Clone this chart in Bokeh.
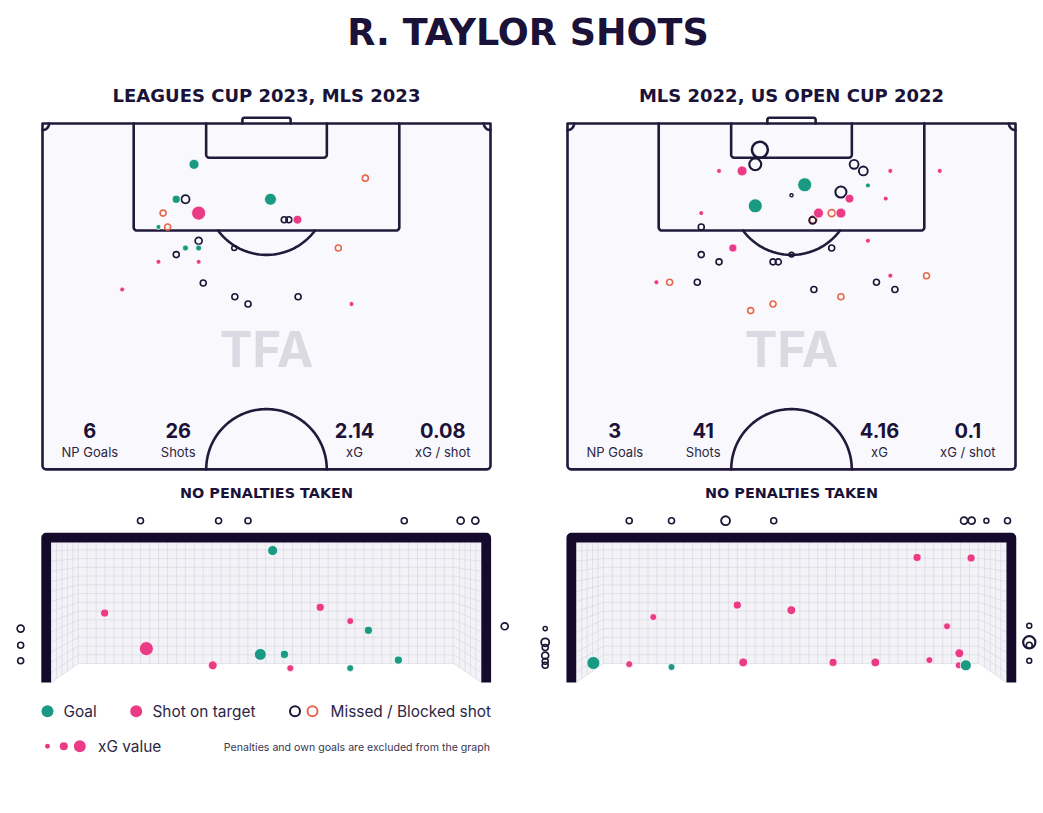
import numpy as np
from bokeh.plotting import figure
from bokeh.models import Range1d, ColumnDataSource
from bokeh.core.properties import value
from bokeh.embed import file_html
from bokeh.resources import INLINE

# ------------------------------------------------------------------ data
title = "R. TAYLOR SHOTS"
panel_titles = ["LEAGUES CUP 2023, MLS 2023", "MLS 2022, US OPEN CUP 2022"]
stat_labels = ["NP Goals", "Shots", "xG", "xG / shot"]
stats_left = ["6", "26", "2.14", "0.08"]
stats_right = ["3", "41", "4.16", "0.1"]
pen_note = "NO PENALTIES TAKEN"
watermark = "TFA"
legend_labels = ["Goal", "Shot on target", "Missed / Blocked shot", "xG value"]
legend_note = "Penalties and own goals are excluded from the graph"
legend_xg = [0.02, 0.10, 0.28]

# outcome codes: G goal, T shot on target, M missed, B blocked
# pitch shots: x = metres from left touchline, y = metres from goal line
lp_x = [23.0, 49.0, 20.3, 21.7, 34.6, 18.3, 23.7, 36.7, 37.4, 38.7, 17.6, 19.0, 23.7,
        21.7, 23.7, 29.1, 44.9, 20.3, 17.6, 23.7, 24.4, 12.1, 29.2, 38.8, 31.2, 46.9]
lp_y = [6.2, 8.3, 11.5, 11.5, 11.5, 13.6, 13.6, 14.6, 14.6, 14.6, 15.7, 15.7, 17.8,
        18.9, 18.9, 18.9, 18.9, 19.9, 21.0, 21.0, 24.2, 25.2, 26.3, 26.3, 27.4, 27.4]
lp_xg = [0.18, 0.04, 0.10, 0.10, 0.28, 0.04, 0.42, 0.04, 0.04, 0.13, 0.02, 0.04, 0.065,
         0.04, 0.04, 0.02, 0.04, 0.04, 0.02, 0.02, 0.04, 0.02, 0.04, 0.04, 0.04, 0.02]
lp_out = ["G", "B", "G", "M", "G", "B", "T", "M", "M", "T", "G", "B", "M",
          "G", "G", "M", "B", "M", "T", "T", "M", "T", "M", "M", "M", "T"]

rp_x = [29.2, 28.5, 23.0, 26.5, 43.5, 44.9, 49.0, 56.5, 36.0, 45.6, 34.0, 41.5, 42.8, 48.3,
        28.5, 20.3, 38.1, 40.1, 41.5, 37.3, 37.2, 20.3, 45.6, 25.1, 40.1, 34.0, 20.3, 23.0,
        31.2, 32.0, 13.5, 15.5, 19.7, 49.0, 54.5, 46.9, 49.7, 37.4, 41.5, 31.2, 27.8]
rp_y = [4.0, 6.2, 7.2, 7.2, 6.2, 7.2, 7.2, 7.2, 9.3, 9.4, 10.9, 10.4, 11.4, 11.4,
        12.5, 13.6, 13.6, 13.6, 13.6, 14.6, 14.7, 15.7, 17.8, 18.9, 18.9, 19.9, 19.9, 21.0,
        21.0, 21.0, 24.1, 24.1, 24.1, 23.1, 23.1, 24.1, 25.2, 25.2, 26.3, 27.4, 28.4]
rp_xg = [0.57, 0.28, 0.02, 0.18, 0.13, 0.13, 0.02, 0.02, 0.42, 0.02, 0.002, 0.23, 0.13, 0.02,
         0.42, 0.02, 0.18, 0.065, 0.18, 0.065, 0.065, 0.04, 0.02, 0.10, 0.04, 0.02, 0.04, 0.04,
         0.04, 0.04, 0.02, 0.04, 0.04, 0.02, 0.04, 0.04, 0.04, 0.04, 0.04, 0.04, 0.04]
rp_out = ["M", "M", "T", "T", "M", "M", "T", "T", "G", "G", "M", "M", "T", "T",
          "G", "T", "T", "B", "T", "B", "M", "M", "T", "T", "M", "M", "M", "M",
          "M", "M", "T", "B", "M", "T", "B", "M", "M", "M", "B", "B", "B"]

# goal-mouth view: x = metres from goal centre, y = metres above ground
lg_x = [0.11, -2.75, -2.04, -0.10, 0.31, -0.91, 0.41, 0.92, 1.43, 1.74, 1.43, 2.25,
        -2.14, -0.81, -0.31, 2.35, 3.31, 3.56, -4.18, -4.18, -4.18, 4.06]
lg_y = [2.30, 1.21, 0.59, 0.49, 0.49, 0.30, 0.25, 1.31, 1.07, 0.91, 0.25, 0.39,
        2.82, 2.82, 2.82, 2.82, 2.82, 2.82, 0.94, 0.65, 0.38, 0.98]
lg_xg = [0.18, 0.10, 0.42, 0.28, 0.10, 0.13, 0.065, 0.10, 0.065, 0.10, 0.065, 0.10,
         0.04, 0.04, 0.04, 0.04, 0.065, 0.065, 0.065, 0.04, 0.04, 0.065]
lg_out = ["G", "T", "T", "G", "G", "T", "T", "T", "T", "G", "G", "G",
          "M", "M", "M", "M", "M", "M", "M", "M", "M", "M"]

rg_x = [-3.37, -2.76, -2.04, -2.35, -0.92, 0.00, -0.82, 0.71, 1.43, 2.14, 3.06, 2.65,
        2.35, 2.86, 2.85, 2.97,
        -2.76, -2.04, -1.12, -0.30, 2.94, 3.07, 3.32, 3.68,
        -4.19, -4.19, -4.19, -4.19, -4.19, -4.19, 4.05, 4.05, 4.05, 4.05]
rg_y = [0.34, 0.32, 0.27, 1.14, 1.35, 1.26, 0.35, 0.35, 0.35, 2.18, 2.17, 0.98,
        0.39, 0.51, 0.30, 0.30,
        2.82, 2.82, 2.82, 2.82, 2.82, 2.82, 2.82, 2.82,
        0.94, 0.70, 0.61, 0.47, 0.37, 0.30, 0.99, 0.70, 0.65, 0.38]
rg_xg = [0.35, 0.065, 0.065, 0.065, 0.10, 0.13, 0.13, 0.10, 0.13, 0.10, 0.10, 0.065,
         0.065, 0.13, 0.065, 0.23,
         0.04, 0.04, 0.13, 0.04, 0.065, 0.065, 0.02, 0.04,
         0.01, 0.10, 0.04, 0.065, 0.04, 0.04, 0.02, 0.30, 0.04, 0.02]
rg_out = ["G", "T", "G", "T", "T", "T", "T", "T", "T", "T", "T", "T",
          "T", "T", "T", "G",
          "M", "M", "M", "M", "M", "M", "M", "M",
          "M", "M", "M", "M", "M", "M", "M", "M", "M", "M"]

# ------------------------------------------------------------------ layout / style
W, H = 1043, 813
S = 448 / 68.0                      # px per metre on pitch
PL, PR, PT = 42, 567, 123           # pitch left edges and goal line (px)
GCL, GCR, GGROUND = 265.7, 790.85, 682
SGX, SGY = 430 / 7.32, 140 / 2.44   # px per metre in goal view
BL = 0.36                           # baseline correction (fraction of font size)

NAVY = "#1a1238"
LINE = "#231a3b"
FRAME = "#140a2b"
TXT = "#2c2645"
COL = {"G": "#1b9a83", "T": "#ec3b86", "M": "#1d1535", "B": "#e4694d"}
FONT = value("Inter")
HFONT = value("DejaVu Sans")

p = figure(width=W, height=H, x_range=Range1d(0, W), y_range=Range1d(H, 0),
           output_backend="svg", toolbar_location=None, min_border=0,
           x_axis_type=None, y_axis_type=None,
           background_fill_color="white", border_fill_color="white",
           outline_line_color=None)
p.grid.visible = False
p.extra_x_ranges = {
    "pL": Range1d(-PL / S, (W - PL) / S),
    "pR": Range1d(-PR / S, (W - PR) / S),
    "gL": Range1d(-GCL / SGX, (W - GCL) / SGX),
    "gR": Range1d(-GCR / SGX, (W - GCR) / SGX),
}
p.extra_y_ranges = {
    "py": Range1d((H - PT) / S, -PT / S),
    "gy": Range1d((GGROUND - H) / SGY, GGROUND / SGY),
}


def txt(xs, ybase, texts, fs, font=FONT, bold=False, color=TXT, align="center"):
    """ybase: wanted baseline in page pixels"""
    p.text(x=xs, y=[ybase - BL * fs] * len(xs), text=texts, text_font=font,
           text_font_style="bold" if bold else "normal",
           text_font_size=f"{fs}px", text_color=color, text_align=align,
           text_baseline="alphabetic")


def arc(cx, cy, r, a0, a1, n=40):
    t = np.radians(np.linspace(a0, a1, n))
    return list(cx + r * np.cos(t)), list(cy + r * np.sin(t))


def size_of(xg):
    return 2 * (1.2 + 9 * np.sqrt(np.asarray(xg, dtype=float)))


def draw_pitch(xr):
    kw = dict(x_range_name=xr, y_range_name="py")
    L, D = 68.0, 52.5
    r = 0.6
    ax1, ay1 = arc(L - r, D - r, r, 0, 90)
    ax2, ay2 = arc(r, D - r, r, 90, 180)
    ox = [0, L, L] + ax1 + ax2 + [0, 0]
    oy = [0, 0, D - r] + ay1 + ay2 + [0, 0]
    p.patch(ox[:-1], oy[:-1], fill_color="#f9f8fc", line_color=None, **kw)
    lines_x, lines_y = [ox], [oy]

    def box(x0, x1, depth, rr):
        a1x, a1y = arc(x0 + rr, depth - rr, rr, 180, 90, 12)
        a2x, a2y = arc(x1 - rr, depth - rr, rr, 90, 0, 12)
        return [x0] + a1x + a2x + [x1], [0] + a1y + a2y + [0]

    for (x0, x1, d) in [(13.84, 54.16, 16.25), (24.84, 43.16, 5.2)]:
        bx, by = box(x0, x1, d, 0.5)
        lines_x.append(bx); lines_y.append(by)
    gx0, gx1, gd, gr = 30.34, 37.66, -0.87, 0.3
    a1x, a1y = arc(gx0 + gr, gd + gr, gr, 180, 270, 12)
    a2x, a2y = arc(gx1 - gr, gd + gr, gr, 270, 360, 12)
    lines_x.append([gx0] + a1x + a2x + [gx1]); lines_y.append([0] + a1y + a2y + [0])
    ang = np.degrees(np.arcsin((16.25 - 10.8) / 9.15))
    x, y = arc(34, 10.8, 9.15, ang, 180 - ang); lines_x.append(x); lines_y.append(y)
    x, y = arc(34, D, 9.15, 180, 360, 80); lines_x.append(x); lines_y.append(y)
    x, y = arc(0, 0, 1.0, 0, 90, 12); lines_x.append(x); lines_y.append(y)
    x, y = arc(L, 0, 1.0, 90, 180, 12); lines_x.append(x); lines_y.append(y)
    p.multi_line(lines_x, lines_y, line_color=LINE, line_width=2.6,
                 line_join="round", line_cap="round", **kw)


def draw_goal(xr):
    kw = dict(x_range_name=xr, y_range_name="gy")
    gw, gh, bw, bh = 3.66, 2.44, 3.2, 0.33
    p.patch([-gw, gw, gw, bw, -bw, -gw], [gh, gh, 0, bh, bh, 0],
            fill_color="#f3f2f7", line_color=None, **kw)
    gx_list, gy_list = [], []
    for xv in np.arange(-bw, bw + 0.001, 0.152):
        gx_list.append([xv, xv]); gy_list.append([bh, gh])
    for yv in np.arange(bh, gh + 0.001, 0.1525):
        yp = gh - (gh - yv) * gh / (gh - bh)
        gx_list.append([-gw, -bw, bw, gw]); gy_list.append([yp, yv, yv, yp])
    for k in range(1, 5):
        f = k / 5.0
        xv = -gw + f * (gw - bw)
        gx_list.append([xv, xv]); gy_list.append([f * bh, gh])
        gx_list.append([-xv, -xv]); gy_list.append([f * bh, gh])
    p.multi_line(gx_list, gy_list, line_color="#d9d8e2", line_width=0.7, **kw)
    pw = 5.0 / SGX
    cb = gh + 4.85 / SGY
    p.line([-gw - pw, -gw - pw, gw + pw, gw + pw], [0, cb, cb, 0],
           line_color=FRAME, line_width=9.8, line_join="round", line_cap="butt", **kw)


def draw_shots(xs, ys, xg, out, xr, yr):
    xs, ys, xg, out = np.array(xs), np.array(ys), np.array(xg), np.array(out)
    for code in ["B", "M", "T", "G"]:
        m = out == code
        if not m.any():
            continue
        order = np.argsort(-xg[m])
        src = ColumnDataSource(dict(x=xs[m][order], y=ys[m][order],
                                    s=size_of(xg[m][order]),
                                    lw=1.3 + 1.6 * np.sqrt(xg[m][order])))
        if code in ("B", "M"):
            p.scatter("x", "y", size="s", source=src, marker="circle",
                      fill_color=None, line_color=COL[code], line_width="lw",
                      x_range_name=xr, y_range_name=yr)
        else:
            p.scatter("x", "y", size="s", source=src, marker="circle",
                      fill_color=COL[code], line_color="white", line_width=0.8,
                      x_range_name=xr, y_range_name=yr)


stat_offsets = [47.3, 135.7, 312, 400.3]   # px from pitch left edge

for xr, gr, left, vals in [("pL", "gL", PL, stats_left), ("pR", "gR", PR, stats_right)]:
    draw_pitch(xr)
    txt([left + 34 * S], 367, [watermark], 49, bold=True, color="#dbdae2")
    xs = [left + o for o in stat_offsets]
    txt(xs, 437.5, vals, 20, bold=True, color=NAVY)
    txt(xs, 456, stat_labels, 13)
    draw_goal(gr)

draw_shots(lp_x, lp_y, lp_xg, lp_out, "pL", "py")
draw_shots(rp_x, rp_y, rp_xg, rp_out, "pR", "py")
draw_shots(lg_x, lg_y, lg_xg, lg_out, "gL", "gy")
draw_shots(rg_x, rg_y, rg_xg, rg_out, "gR", "gy")

# headings
txt([527.5], 45, [title], 36.5, font=HFONT, bold=True, color=NAVY)
txt([PL + 34 * S, PR + 34 * S], 101.7, panel_titles, 18, font=HFONT, bold=True, color=NAVY)
txt([PL + 34 * S, PR + 34 * S], 498, [pen_note, pen_note], 14.4, font=HFONT, bold=True,
    color=NAVY)

# legend
p.scatter([47, 135.7], [710.7, 710.7], size=12, marker="circle",
          fill_color=[COL["G"], COL["T"]], line_color=None)
p.scatter([294.5, 312], [710.7, 710.7], size=10, marker="circle", fill_color=None,
          line_color=[COL["M"], COL["B"]], line_width=2)
p.scatter([47, 63.3, 79.3], [745.7] * 3, size=size_of(legend_xg), marker="circle",
          fill_color=COL["T"], line_color=None)
txt([63, 152, 330], 716.5, legend_labels[:3], 15.4, align="left")
txt([97.5], 751.5, [legend_labels[3]], 15.4, align="left")
txt([223.3], 750.5, [legend_note], 10.6, color="#3a3552", align="left")

open("out.html", "w").write(file_html(p, INLINE))
